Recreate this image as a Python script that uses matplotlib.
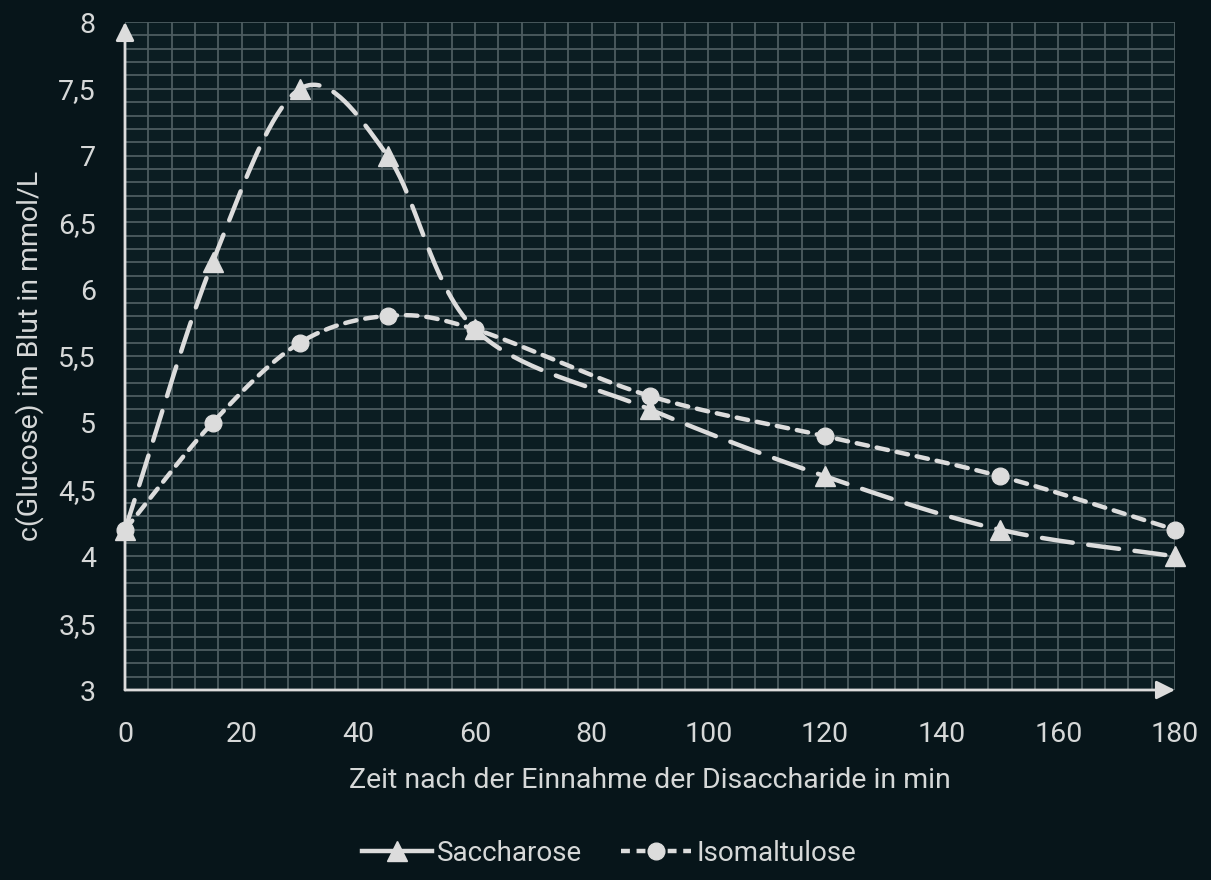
import numpy as np
import matplotlib
matplotlib.use('Agg')
import matplotlib.pyplot as plt
from matplotlib.ticker import MultipleLocator, FuncFormatter
from matplotlib.lines import Line2D

# Daten: Blutglucose nach Einnahme der Disaccharide
zeit = [0, 15, 30, 45, 60, 90, 120, 150, 180]
saccharose = [4.2, 6.2, 7.5, 7.0, 5.7, 5.1, 4.6, 4.2, 4.0]
isomaltulose = [4.2, 5.0, 5.6, 5.8, 5.7, 5.2, 4.9, 4.6, 4.2]

BG = '#07151a'
PLOT_BG = '#0b1d22'
GRID = '#4d5d61'
FG = '#dcdcdc'
TXT = '#d6d8d8'

plt.rcParams['font.family'] = ['Roboto', 'DejaVu Sans']


def glatt(xs, ys, n=40):
    """Catmull-Rom-Glaettung der Messpunkte (nur fuer die Darstellung)."""
    P = np.column_stack([xs, ys]).astype(float)
    P = np.vstack([2 * P[0] - P[1], P, 2 * P[-1] - P[-2]])
    out = []
    t = np.linspace(0, 1, n)[:, None]
    for i in range(1, len(P) - 2):
        p0, p1, p2, p3 = P[i - 1], P[i], P[i + 1], P[i + 2]
        seg = 0.5 * ((2 * p1) + (-p0 + p2) * t
                     + (2 * p0 - 5 * p1 + 4 * p2 - p3) * t ** 2
                     + (-p0 + 3 * p1 - 3 * p2 + p3) * t ** 3)
        out.append(seg if i == 1 else seg[1:])
    out = np.vstack(out)
    return out[:, 0], out[:, 1]


fig = plt.figure(figsize=(12.11, 8.8), dpi=100, facecolor=BG)
ax = fig.add_axes([125 / 1211, 1 - 690 / 880, 1050 / 1211, 668 / 880])
ax.set_facecolor(PLOT_BG)

ax.set_xlim(0, 180)
ax.set_ylim(3, 8)
ax.xaxis.set_major_locator(MultipleLocator(20))
ax.xaxis.set_minor_locator(MultipleLocator(4))
ax.yaxis.set_major_locator(MultipleLocator(0.5))
ax.yaxis.set_minor_locator(MultipleLocator(0.1))
ax.grid(True, which='both', color=GRID, linewidth=1.3, zorder=0)
ax.set_axisbelow(True)

fmt = FuncFormatter(lambda v, p: ('%g' % v).replace('.', ','))
ax.yaxis.set_major_formatter(fmt)
ax.tick_params(which='both', length=0, colors=TXT, labelsize=20.5)
ax.tick_params(axis='x', pad=22)
ax.tick_params(axis='y', pad=21)

for s in ax.spines.values():
    s.set_visible(False)

# Achsen mit Pfeilspitzen
pfeil = dict(arrowstyle='-|>', color=FG, lw=2, mutation_scale=28, shrinkA=0, shrinkB=0)
ax.annotate('', xy=(0, 8), xytext=(0, 3), arrowprops=pfeil, annotation_clip=False, zorder=3)
ax.annotate('', xy=(180, 3), xytext=(0, 3), arrowprops=pfeil, annotation_clip=False, zorder=3)

xs, ys = glatt(zeit, saccharose)
ax.plot(xs, ys, color=FG, lw=3.2, dashes=(7, 3.5), dash_capstyle='round',
        clip_on=False, zorder=4)
ax.plot(zeit, saccharose, '^', color=FG, ms=15, clip_on=False, zorder=5)

xs, ys = glatt(zeit, isomaltulose)
ax.plot(xs, ys, color=FG, lw=3.2, dashes=(2.6, 2), dash_capstyle='round',
        clip_on=False, zorder=4)
ax.plot(zeit, isomaltulose, 'o', color=FG, ms=12, clip_on=False, zorder=5)

ax.set_xlabel('Zeit nach der Einnahme der Disaccharide in min', color=TXT,
              fontsize=20.5, labelpad=14)
ax.set_ylabel('c(Glucose) im Blut in mmol/L', color=TXT, fontsize=20.5, labelpad=10)

handles = [
    Line2D([], [], color=FG, lw=3.2, marker='^', ms=15),
    Line2D([], [], color=FG, lw=3.2, dashes=(2, 1.5), marker='o', ms=12),
]
leg = fig.legend(handles, ['Saccharose', 'Isomaltulose'], loc='center',
                 bbox_to_anchor=(0.503, 1 - 853 / 880), ncol=2, frameon=False,
                 fontsize=20, handlelength=2.5, handletextpad=0.2,
                 columnspacing=1.4)
for t in leg.get_texts():
    t.set_color(TXT)

fig.savefig('out.png', dpi=100, facecolor=BG)
